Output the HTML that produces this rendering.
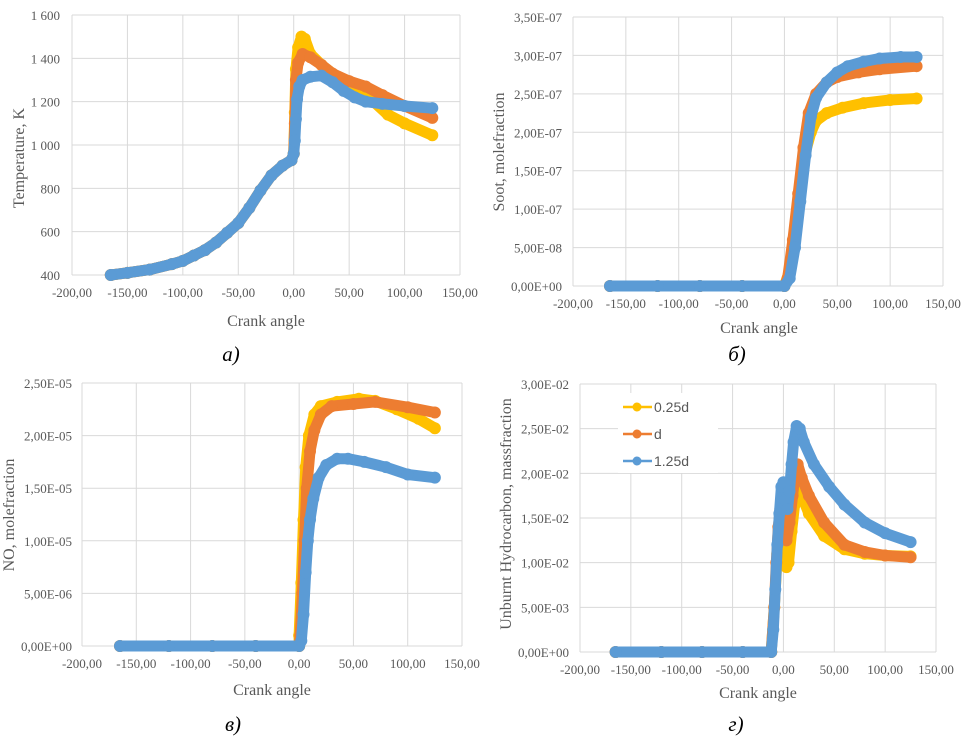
<!DOCTYPE html>
<html><head><meta charset="utf-8"><style>
html,body{margin:0;padding:0;background:#fff;}
svg text{font-family:"Liberation Serif",serif;fill:#595959;}
</style></head><body>
<svg id="s" width="964" height="742" viewBox="0 0 964 742" xmlns="http://www.w3.org/2000/svg"></svg>
<script>
// ---------- Data ----------
const xTicks = [-200,-150,-100,-50,0,50,100,150];
const xTickLabels = ["-200,00","-150,00","-100,00","-50,00","0,00","50,00","100,00","150,00"];
const seriesNames = ["0.25d","d","1.25d"];

// Panel a: Temperature
const tempX_common = [-165,-150,-130,-110,-100,-90,-80,-70,-60,-50,-40,-30,-20,-10,-2,0];
const tempY_common = [400,410,425,450,465,490,515,550,595,640,710,790,860,905,930,960];
const tempYellowX = [1,2,4,7,10,15,25,40,55,70,85,100,125];
const tempYellowY = [1150,1350,1450,1500,1490,1420,1370,1310,1260,1210,1140,1100,1045];
const tempOrangeX = [1,2,4,8,15,25,35,50,65,80,100,125];
const tempOrangeY = [1100,1300,1380,1420,1405,1370,1330,1295,1270,1230,1180,1125];
const tempBlueX = [1,2,3,5,8,15,25,35,45,55,65,80,100,125];
const tempBlueY = [1020,1120,1210,1270,1300,1315,1320,1290,1250,1220,1200,1190,1180,1170];
const tempTicks = [400,600,800,1000,1200,1400,1600];
const tempTickLabels = ["400","600","800","1 000","1 200","1 400","1 600"];

// Panel b: Soot (x 1e-7)
const sootZeroX = [-165,-120,-80,-40,0];
const sootZeroY = [0,0,0,0,0];
const sootYellowX = [5,10,15,20,25,30,40,55,75,100,125];
const sootYellowY = [0.2,0.7,1.3,1.75,2.0,2.15,2.25,2.32,2.38,2.42,2.44];
const sootOrangeX = [3,8,13,18,23,30,40,50,70,90,125];
const sootOrangeY = [0.1,0.6,1.2,1.8,2.25,2.5,2.65,2.72,2.78,2.82,2.86];
const sootBlueX = [5,10,15,20,25,30,40,50,60,75,90,110,125];
const sootBlueY = [0.1,0.5,1.1,1.7,2.2,2.45,2.65,2.78,2.86,2.92,2.96,2.98,2.98];
const sootTicks = [0,0.5,1,1.5,2,2.5,3,3.5];
const sootTickLabels = ["0,00E+00","5,00E-08","1,00E-07","1,50E-07","2,00E-07","2,50E-07","3,00E-07","3,50E-07"];

// Panel c: NO (x 1e-5)
const noYellowX = [0,2,4,6,9,14,20,35,55,70,90,110,125];
const noYellowY = [0.1,0.6,1.2,1.7,2.0,2.2,2.28,2.32,2.35,2.33,2.25,2.16,2.07];
const noOrangeX = [1,3,5,7,10,14,20,30,50,70,100,125];
const noOrangeY = [0.1,0.5,1.0,1.5,1.85,2.05,2.2,2.28,2.3,2.32,2.27,2.22];
const noBlueX = [2,4,6,8,10,13,18,25,35,45,60,80,100,125];
const noBlueY = [0.05,0.3,0.7,1.0,1.2,1.4,1.6,1.72,1.78,1.78,1.75,1.70,1.63,1.60];
const noTicks = [0,0.5,1,1.5,2,2.5];
const noTickLabels = ["0,00E+00","5,00E-06","1,00E-05","1,50E-05","2,00E-05","2,50E-05"];

// Panel d: HC (x 1e-2)
const hcZeroX = [-165,-120,-80,-40,-12];
const hcZeroY = [0,0,0,0,0];
const hcYellowX = [-9,-6,-3,0,3,5,8,11,14,18,25,40,60,80,100,125];
const hcYellowY = [0.5,1.1,1.5,1.4,0.95,1.0,1.35,1.65,1.85,1.75,1.55,1.3,1.15,1.1,1.08,1.07];
const hcOrangeX = [-9,-7,-5,-3,0,3,6,9,12,14,18,25,40,60,80,100,125];
const hcOrangeY = [0.5,1.0,1.4,1.6,1.55,1.25,1.45,1.75,2.05,2.1,1.95,1.75,1.45,1.2,1.12,1.08,1.06];
const hcBlueX = [-10,-8,-6,-4,-2,0,2,4,6,8,10,13,16,20,30,45,60,80,100,125];
const hcBlueY = [0.25,0.7,1.2,1.55,1.85,1.9,1.7,1.6,1.8,2.1,2.35,2.53,2.5,2.35,2.1,1.85,1.65,1.45,1.33,1.23];
const hcTicks = [0,0.5,1,1.5,2,2.5,3];
const hcTickLabels = ["0,00E+00","5,00E-03","1,00E-02","1,50E-02","2,00E-02","2,50E-02","3,00E-02"];

const colors = ["#FFC000","#ED7D31","#5B9BD5"];

// ---------- Drawing ----------
const NS = "http://www.w3.org/2000/svg";
const svg = document.getElementById('s');
function mk(tag, attrs, parent){const e=document.createElementNS(NS,tag);for(const k in attrs)e.setAttribute(k,attrs[k]);(parent||svg).appendChild(e);return e;}

function panel(p){
  const g = mk('g',{});
  
  
  const sx = v => p.l + (v - (-200)) / 350 * (p.r - p.l);
  const sy = v => p.b - (v - p.ymin) / (p.ymax - p.ymin) * (p.b - p.t);
  xTicks.forEach((t,i)=>{
    const ln = mk('line',{x1:sx(t),x2:sx(t),y1:p.t,y2:p.b,stroke:'#d9d9d9','stroke-width':1},g);
    
    
    const tx = mk('text',{x:sx(t),y:p.b+22,'text-anchor':'middle','font-size':13},g);
    tx.textContent = xTickLabels[i];
    
    
  });
  p.ticks.forEach((t,i)=>{
    const ln = mk('line',{x1:p.l,x2:p.r,y1:sy(t),y2:sy(t),stroke:'#d9d9d9','stroke-width':1},g);
    
    
    const tx = mk('text',{x:p.lab,y:sy(t)+5,'text-anchor':'end','font-size':13},g);
    tx.textContent = p.labels[i];
    
    
  });
  if (p.legend) {
    const lg = mk('g',{},g);
    
    
    mk('rect',{x:618,y:393,width:100,height:80,fill:'#fff'},lg);
    seriesNames.forEach((n,i)=>{
      const y = 407 + i*27;
      const e = mk('g',{},lg);
      
      
      mk('line',{x1:623,x2:652,y1:y,y2:y,stroke:colors[i],'stroke-width':2.5},e);
      mk('circle',{cx:637,cy:y,r:4.5,fill:colors[i]},e);
      const t = mk('text',{x:654,y:y+5,'font-size':14,style:'font-family:"Liberation Sans",sans-serif'},e);
      t.textContent = n;
    });
  }
  p.series.forEach((s,i)=>{
    const sg = mk('g',{},g);
    
    
    const xs = s[0], ys = s[1];
    const pts = xs.map((x,j)=>sx(x).toFixed(1)+','+sy(ys[j]).toFixed(1)).join(' ');
    mk('polyline',{points:pts,fill:'none',stroke:colors[i],'stroke-width':11,'stroke-linejoin':'round','stroke-linecap':'round'},sg);
    xs.forEach((x,j)=>{
      const c = mk('circle',{cx:sx(x),cy:sy(ys[j]),r:6,fill:colors[i]},sg);
      
      
    });
  });
  const xt = mk('text',{x:p.xtx,y:p.xty,'text-anchor':'middle','font-size':16},g);
  xt.textContent = 'Crank angle';
  
  
  const yt = mk('text',{x:0,y:0,'text-anchor':'middle','font-size':16,transform:`translate(${p.ytx},${p.yty}) rotate(-90)`},g);
  yt.textContent = p.ytitle;
  
  
  const cap = mk('text',{x:p.capx,y:p.capy,'text-anchor':'middle','font-size':21,'font-style':'italic',style:'fill:#000'},g);
  cap.textContent = p.cap;
  
  
}

const cat = (a,b)=>a.concat(b);
panel({name:'temperature-chart',l:72,r:460,t:15,b:275,ymin:400,ymax:1600,ticks:tempTicks,labels:tempTickLabels,lab:60,
  series:[[cat(tempX_common,tempYellowX),cat(tempY_common,tempYellowY)],[cat(tempX_common,tempOrangeX),cat(tempY_common,tempOrangeY)],[cat(tempX_common,tempBlueX),cat(tempY_common,tempBlueY)]],
  xtx:266,xty:326,ytx:24,yty:158,ytitle:'Temperature,  K',capx:231,capy:361,cap:'а)'});
panel({name:'soot-chart',l:573,r:943,t:17,b:286,ymin:0,ymax:3.5,ticks:sootTicks,labels:sootTickLabels,lab:562,
  series:[[cat(sootZeroX,sootYellowX),cat(sootZeroY,sootYellowY)],[cat(sootZeroX,sootOrangeX),cat(sootZeroY,sootOrangeY)],[cat(sootZeroX,sootBlueX),cat(sootZeroY,sootBlueY)]],
  xtx:759,xty:333,ytx:504,yty:152,ytitle:'Soot, molefraction',capx:737,capy:361,cap:'б)'});
panel({name:'no-chart',l:82,r:462,t:383,b:646,ymin:0,ymax:2.5,ticks:noTicks,labels:noTickLabels,lab:72,
  series:[[cat(sootZeroX,noYellowX),cat(sootZeroY,noYellowY)],[cat(sootZeroX,noOrangeX),cat(sootZeroY,noOrangeY)],[cat(sootZeroX,noBlueX),cat(sootZeroY,noBlueY)]],
  xtx:272,xty:695,ytx:14,yty:515,ytitle:'NO, molefraction',capx:233,capy:731,cap:'в)'});
panel({name:'hydrocarbon-chart',l:580,r:936,t:384,b:652,ymin:0,ymax:3,ticks:hcTicks,labels:hcTickLabels,lab:569,legend:true,
  series:[[cat(hcZeroX,hcYellowX),cat(hcZeroY,hcYellowY)],[cat(hcZeroX,hcOrangeX),cat(hcZeroY,hcOrangeY)],[cat(hcZeroX,hcBlueX),cat(hcZeroY,hcBlueY)]],
  xtx:758,xty:698,ytx:511,yty:514,ytitle:'Unburnt Hydrocarbon, massfraction',capx:736,capy:731,cap:'г)'});
</script>
</body></html>
